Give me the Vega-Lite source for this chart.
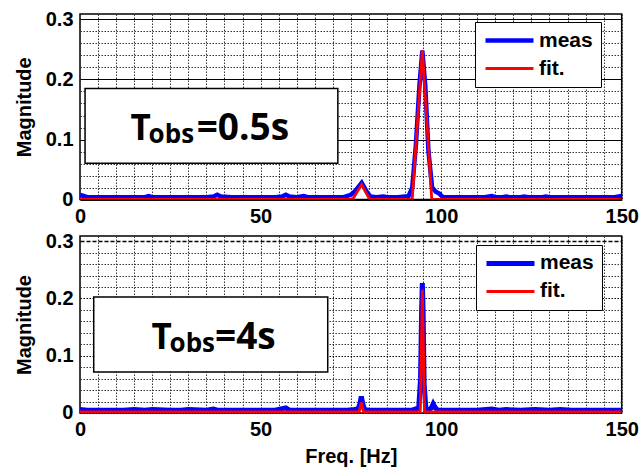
{
  "$schema": "https://vega.github.io/schema/vega-lite/v6.json",
  "background": "white",
  "padding": {"left": 13, "top": 8, "right": 5, "bottom": 5},
  "spacing": 2,
  "datasets": {
    "top": [
      {"f": 0, "m": 0.008, "s": "meas"}, {"f": 1, "m": 0.006, "s": "meas"}, {"f": 2, "m": 0.004, "s": "meas"},
      {"f": 4, "m": 0.004, "s": "meas"}, {"f": 7, "m": 0.004, "s": "meas"}, {"f": 10, "m": 0.004, "s": "meas"},
      {"f": 13, "m": 0.004, "s": "meas"}, {"f": 16, "m": 0.004, "s": "meas"}, {"f": 18, "m": 0.004, "s": "meas"},
      {"f": 19, "m": 0.006, "s": "meas"}, {"f": 20, "m": 0.004, "s": "meas"}, {"f": 24, "m": 0.004, "s": "meas"},
      {"f": 28, "m": 0.004, "s": "meas"}, {"f": 32, "m": 0.004, "s": "meas"}, {"f": 35, "m": 0.004, "s": "meas"},
      {"f": 37, "m": 0.005, "s": "meas"}, {"f": 38, "m": 0.008, "s": "meas"}, {"f": 39, "m": 0.005, "s": "meas"},
      {"f": 42, "m": 0.004, "s": "meas"}, {"f": 46, "m": 0.004, "s": "meas"}, {"f": 50, "m": 0.004, "s": "meas"},
      {"f": 54, "m": 0.004, "s": "meas"}, {"f": 56, "m": 0.005, "s": "meas"}, {"f": 57, "m": 0.008, "s": "meas"},
      {"f": 58, "m": 0.005, "s": "meas"}, {"f": 60, "m": 0.004, "s": "meas"}, {"f": 62, "m": 0.006, "s": "meas"},
      {"f": 63, "m": 0.004, "s": "meas"}, {"f": 66, "m": 0.004, "s": "meas"}, {"f": 70, "m": 0.004, "s": "meas"},
      {"f": 73, "m": 0.004, "s": "meas"}, {"f": 75, "m": 0.008, "s": "meas"}, {"f": 76, "m": 0.013, "s": "meas"},
      {"f": 78, "m": 0.028, "s": "meas"}, {"f": 79.5, "m": 0.012, "s": "meas"}, {"f": 80.5, "m": 0.005, "s": "meas"},
      {"f": 82, "m": 0.004, "s": "meas"}, {"f": 84, "m": 0.005, "s": "meas"}, {"f": 85, "m": 0.004, "s": "meas"},
      {"f": 88, "m": 0.004, "s": "meas"}, {"f": 90, "m": 0.005, "s": "meas"}, {"f": 91, "m": 0.006, "s": "meas"},
      {"f": 92, "m": 0.02, "s": "meas"}, {"f": 93, "m": 0.09, "s": "meas"}, {"f": 94, "m": 0.19, "s": "meas"},
      {"f": 94.8, "m": 0.248, "s": "meas"}, {"f": 95.6, "m": 0.19, "s": "meas"}, {"f": 96.5, "m": 0.08, "s": "meas"},
      {"f": 97.5, "m": 0.02, "s": "meas"}, {"f": 98.5, "m": 0.013, "s": "meas"}, {"f": 99.5, "m": 0.01, "s": "meas"},
      {"f": 100.5, "m": 0.004, "s": "meas"}, {"f": 104, "m": 0.004, "s": "meas"}, {"f": 108, "m": 0.004, "s": "meas"},
      {"f": 112, "m": 0.004, "s": "meas"}, {"f": 114, "m": 0.006, "s": "meas"}, {"f": 115, "m": 0.004, "s": "meas"},
      {"f": 117, "m": 0.004, "s": "meas"}, {"f": 118, "m": 0.005, "s": "meas"}, {"f": 119, "m": 0.004, "s": "meas"},
      {"f": 122, "m": 0.004, "s": "meas"}, {"f": 123, "m": 0.005, "s": "meas"}, {"f": 124, "m": 0.004, "s": "meas"},
      {"f": 128, "m": 0.004, "s": "meas"}, {"f": 129, "m": 0.005, "s": "meas"}, {"f": 130, "m": 0.004, "s": "meas"},
      {"f": 134, "m": 0.004, "s": "meas"}, {"f": 137, "m": 0.004, "s": "meas"}, {"f": 140, "m": 0.004, "s": "meas"},
      {"f": 144, "m": 0.004, "s": "meas"}, {"f": 148, "m": 0.004, "s": "meas"}, {"f": 150, "m": 0.006, "s": "meas"},
      {"f": 0, "m": 0.0005, "s": "fit."}, {"f": 75.5, "m": 0.0005, "s": "fit."}, {"f": 78, "m": 0.025, "s": "fit."},
      {"f": 80.2, "m": 0.0005, "s": "fit."}, {"f": 92, "m": 0.0005, "s": "fit."}, {"f": 94.8, "m": 0.249, "s": "fit."},
      {"f": 97.4, "m": 0.0005, "s": "fit."}, {"f": 150, "m": 0.0005, "s": "fit."}
    ],
    "bot": [
      {"f": 0, "m": 0.006, "s": "meas"}, {"f": 2, "m": 0.005, "s": "meas"}, {"f": 5, "m": 0.005, "s": "meas"},
      {"f": 8, "m": 0.005, "s": "meas"}, {"f": 12, "m": 0.005, "s": "meas"}, {"f": 15, "m": 0.006, "s": "meas"},
      {"f": 18, "m": 0.005, "s": "meas"}, {"f": 20, "m": 0.006, "s": "meas"}, {"f": 25, "m": 0.005, "s": "meas"},
      {"f": 28, "m": 0.005, "s": "meas"}, {"f": 30, "m": 0.006, "s": "meas"}, {"f": 35, "m": 0.005, "s": "meas"},
      {"f": 37, "m": 0.007, "s": "meas"}, {"f": 38, "m": 0.005, "s": "meas"}, {"f": 42, "m": 0.005, "s": "meas"},
      {"f": 46, "m": 0.005, "s": "meas"}, {"f": 50, "m": 0.005, "s": "meas"}, {"f": 54, "m": 0.005, "s": "meas"},
      {"f": 57, "m": 0.009, "s": "meas"}, {"f": 58, "m": 0.005, "s": "meas"}, {"f": 62, "m": 0.005, "s": "meas"},
      {"f": 66, "m": 0.005, "s": "meas"}, {"f": 70, "m": 0.005, "s": "meas"}, {"f": 74, "m": 0.005, "s": "meas"},
      {"f": 76, "m": 0.006, "s": "meas"}, {"f": 77, "m": 0.007, "s": "meas"}, {"f": 77.5, "m": 0.016, "s": "meas"},
      {"f": 77.9, "m": 0.029, "s": "meas"}, {"f": 78.3, "m": 0.016, "s": "meas"}, {"f": 78.8, "m": 0.006, "s": "meas"},
      {"f": 80, "m": 0.005, "s": "meas"}, {"f": 84, "m": 0.005, "s": "meas"}, {"f": 88, "m": 0.005, "s": "meas"},
      {"f": 92, "m": 0.005, "s": "meas"}, {"f": 93.8, "m": 0.009, "s": "meas"}, {"f": 94.3, "m": 0.06, "s": "meas"},
      {"f": 94.6, "m": 0.18, "s": "meas"}, {"f": 94.8, "m": 0.227, "s": "meas"}, {"f": 95, "m": 0.18, "s": "meas"},
      {"f": 95.3, "m": 0.05, "s": "meas"}, {"f": 95.8, "m": 0.006, "s": "meas"}, {"f": 96.5, "m": 0.005, "s": "meas"},
      {"f": 97.3, "m": 0.009, "s": "meas"}, {"f": 97.8, "m": 0.016, "s": "meas"}, {"f": 98.3, "m": 0.01, "s": "meas"},
      {"f": 99, "m": 0.005, "s": "meas"}, {"f": 103, "m": 0.005, "s": "meas"}, {"f": 107, "m": 0.005, "s": "meas"},
      {"f": 110, "m": 0.005, "s": "meas"}, {"f": 114, "m": 0.007, "s": "meas"}, {"f": 116, "m": 0.005, "s": "meas"},
      {"f": 118, "m": 0.006, "s": "meas"}, {"f": 122, "m": 0.005, "s": "meas"}, {"f": 126, "m": 0.006, "s": "meas"},
      {"f": 130, "m": 0.005, "s": "meas"}, {"f": 133, "m": 0.006, "s": "meas"}, {"f": 136, "m": 0.005, "s": "meas"},
      {"f": 140, "m": 0.005, "s": "meas"}, {"f": 145, "m": 0.005, "s": "meas"}, {"f": 150, "m": 0.005, "s": "meas"},
      {"f": 0, "m": 0.002, "s": "fit."}, {"f": 77.3, "m": 0.002, "s": "fit."}, {"f": 77.9, "m": 0.018, "s": "fit."},
      {"f": 78.5, "m": 0.002, "s": "fit."}, {"f": 94.2, "m": 0.002, "s": "fit."}, {"f": 94.8, "m": 0.215, "s": "fit."},
      {"f": 95.4, "m": 0.002, "s": "fit."}, {"f": 150, "m": 0.002, "s": "fit."}
    ],
    "one": [{}]
  },
  "config": {
    "view": {"stroke": "black", "strokeWidth": 1.5},
    "axis": {
      "domain": false,
      "ticks": false,
      "labelFont": "Liberation Sans",
      "labelFontWeight": "bold",
      "labelFontSize": 20,
      "labelColor": "black",
      "labelPadding": 7,
      "labelOverlap": false,
      "labelFlush": false,
      "titleFont": "Liberation Sans",
      "titleFontWeight": "bold",
      "titleFontSize": 20,
      "titleColor": "black",
      "grid": true,
      "gridColor": "#333333",
      "gridDash": [1.5, 1.5],
      "gridWidth": 1
    },
    "legend": {
      "title": null,
      "orient": "none",
      "strokeColor": "black",
      "fillColor": "white",
      "padding": 8,
      "rowPadding": 6,
      "labelFont": "Liberation Sans",
      "labelFontWeight": "bold",
      "labelFontSize": 21,
      "labelColor": "black",
      "symbolType": "M-1,0L5,0",
      "symbolSize": 256,
      "labelOffset": 35
    }
  },
  "resolve": {
    "scale": {"color": "independent", "strokeWidth": "independent"},
    "legend": {"color": "independent", "strokeWidth": "independent"}
  },
  "vconcat": [
    {
      "width": 541.7,
      "height": 185.6,
      "layer": [
        {
          "data": {"name": "top"},
          "transform": [{"filter": "datum.s == 'meas'"}],
          "mark": {"type": "line", "clip": true},
          "encoding": {
            "x": {"field": "f", "type": "quantitative", "scale": {"domain": [0, 150], "nice": false},
              "axis": {"title": null, "values": [0,5,10,15,20,25,30,35,40,45,50,55,60,65,70,75,80,85,90,95,100,105,110,115,120,125,130,135,140,145,150],
                "labelExpr": "datum.value % 50 == 0 ? datum.label : ''"}},
            "y": {"field": "m", "type": "quantitative", "scale": {"domain": [0, 0.309], "nice": false},
              "axis": {"title": "Magnitude", "titlePadding": 11,
                "values": [0,0.02,0.04,0.06,0.08,0.1,0.12,0.14,0.16,0.18,0.2,0.22,0.24,0.26,0.28,0.3],
                "labelExpr": "abs(datum.value*10 - round(datum.value*10)) < 0.001 ? format(datum.value, '.1~f') : ''",
                "gridDash": {"condition": {"test": "abs(datum.value*10 - round(datum.value*10)) < 0.001", "value": []}, "value": [1.5, 1.5]},
                "gridColor": {"condition": {"test": "abs(datum.value*10 - round(datum.value*10)) < 0.001", "value": "black"}, "value": "#333333"}}},
            "color": {"field": "s", "type": "nominal", "scale": {"domain": ["meas", "fit."], "range": ["#0000ff", "#ff0000"]},
              "legend": {"legendX": 395, "legendY": 8}},
            "strokeWidth": {"field": "s", "type": "nominal", "scale": {"domain": ["meas", "fit."], "range": [4.5, 2.8]},
              "legend": {"legendX": 395, "legendY": 8}}
          }
        },
        {
          "data": {"name": "top"},
          "transform": [{"filter": "datum.s == 'fit.'"}],
          "mark": {"type": "line", "clip": true},
          "encoding": {
            "x": {"field": "f", "type": "quantitative", "scale": {"domain": [0, 150], "nice": false},
              "axis": {"title": null, "values": [0,5,10,15,20,25,30,35,40,45,50,55,60,65,70,75,80,85,90,95,100,105,110,115,120,125,130,135,140,145,150],
                "labelExpr": "datum.value % 50 == 0 ? datum.label : ''"}},
            "y": {"field": "m", "type": "quantitative", "scale": {"domain": [0, 0.309], "nice": false},
              "axis": {"title": "Magnitude", "titlePadding": 11,
                "values": [0,0.02,0.04,0.06,0.08,0.1,0.12,0.14,0.16,0.18,0.2,0.22,0.24,0.26,0.28,0.3],
                "labelExpr": "abs(datum.value*10 - round(datum.value*10)) < 0.001 ? format(datum.value, '.1~f') : ''",
                "gridDash": {"condition": {"test": "abs(datum.value*10 - round(datum.value*10)) < 0.001", "value": []}, "value": [1.5, 1.5]},
                "gridColor": {"condition": {"test": "abs(datum.value*10 - round(datum.value*10)) < 0.001", "value": "black"}, "value": "#333333"}}},
            "color": {"field": "s", "type": "nominal"},
            "strokeWidth": {"field": "s", "type": "nominal"}
          }
        },
        {
          "data": {"name": "one"},
          "layer": [
            {
              "mark": {"type": "rect", "fill": "white", "stroke": "black", "strokeWidth": 1.5},
              "encoding": {"x": {"datum": 1.4}, "x2": {"datum": 71.4}, "y": {"datum": 0.185}, "y2": {"datum": 0.0605}}
            },
            {
              "mark": {"type": "text", "text": "T", "align": "left", "baseline": "alphabetic", "font": "Open Sans", "fontWeight": "bold", "fontSize": 35, "fill": "black"},
              "encoding": {"x": {"datum": 14.0}, "y": {"datum": 0.1}}
            },
            {
              "mark": {"type": "text", "text": "obs", "align": "left", "baseline": "alphabetic", "font": "Open Sans", "fontWeight": "bold", "fontSize": 26, "fill": "black"},
              "encoding": {"x": {"datum": 19.0}, "y": {"datum": 0.094}}
            },
            {
              "mark": {"type": "text", "text": "=0.5s", "align": "left", "baseline": "alphabetic", "font": "Open Sans", "fontWeight": "bold", "fontSize": 37, "fill": "black"},
              "encoding": {"x": {"datum": 32.3}, "y": {"datum": 0.1}}
            }
          ],
          "encoding": {
            "x": {"type": "quantitative", "scale": {"domain": [0, 150], "nice": false},
              "axis": {"title": null, "values": [0,5,10,15,20,25,30,35,40,45,50,55,60,65,70,75,80,85,90,95,100,105,110,115,120,125,130,135,140,145,150],
                "labelExpr": "datum.value % 50 == 0 ? datum.label : ''"}},
            "y": {"type": "quantitative", "scale": {"domain": [0, 0.309], "nice": false},
              "axis": {"title": "Magnitude", "titlePadding": 11,
                "values": [0,0.02,0.04,0.06,0.08,0.1,0.12,0.14,0.16,0.18,0.2,0.22,0.24,0.26,0.28,0.3],
                "labelExpr": "abs(datum.value*10 - round(datum.value*10)) < 0.001 ? format(datum.value, '.1~f') : ''",
                "gridDash": {"condition": {"test": "abs(datum.value*10 - round(datum.value*10)) < 0.001", "value": []}, "value": [1.5, 1.5]},
                "gridColor": {"condition": {"test": "abs(datum.value*10 - round(datum.value*10)) < 0.001", "value": "black"}, "value": "#333333"}}}
          }
        }
      ]
    },
    {
      "width": 541.7,
      "height": 177,
      "layer": [
        {
          "data": {"name": "bot"},
          "transform": [{"filter": "datum.s == 'meas'"}],
          "mark": {"type": "line", "clip": true},
          "encoding": {
            "x": {"field": "f", "type": "quantitative", "scale": {"domain": [0, 150], "nice": false},
              "axis": {"title": "Freq. [Hz]", "titlePadding": 7, "values": [0,5,10,15,20,25,30,35,40,45,50,55,60,65,70,75,80,85,90,95,100,105,110,115,120,125,130,135,140,145,150],
                "labelExpr": "datum.value % 50 == 0 ? datum.label : ''"}},
            "y": {"field": "m", "type": "quantitative", "scale": {"domain": [0, 0.309], "nice": false},
              "axis": {"title": "Magnitude", "titlePadding": 11,
                "values": [0,0.02,0.04,0.06,0.08,0.1,0.12,0.14,0.16,0.18,0.2,0.22,0.24,0.26,0.28,0.3],
                "labelExpr": "abs(datum.value*10 - round(datum.value*10)) < 0.001 ? format(datum.value, '.1~f') : ''",
                "gridDash": {"condition": {"test": "datum.value > 0.29", "value": [4, 2]}, "value": [1.5, 1.5]},
                "gridWidth": {"condition": {"test": "datum.value > 0.29", "value": 1.5}, "value": 1},
                "gridColor": {"condition": {"test": "abs(datum.value*10 - round(datum.value*10)) < 0.001", "value": "black"}, "value": "#333333"}}},
            "color": {"field": "s", "type": "nominal", "scale": {"domain": ["meas", "fit."], "range": ["#0000ff", "#ff0000"]},
              "legend": {"legendX": 396, "legendY": 9}},
            "strokeWidth": {"field": "s", "type": "nominal", "scale": {"domain": ["meas", "fit."], "range": [5, 2.8]},
              "legend": {"legendX": 396, "legendY": 9}}
          }
        },
        {
          "data": {"name": "bot"},
          "transform": [{"filter": "datum.s == 'fit.'"}],
          "mark": {"type": "line", "clip": true},
          "encoding": {
            "x": {"field": "f", "type": "quantitative", "scale": {"domain": [0, 150], "nice": false},
              "axis": {"title": "Freq. [Hz]", "titlePadding": 7, "values": [0,5,10,15,20,25,30,35,40,45,50,55,60,65,70,75,80,85,90,95,100,105,110,115,120,125,130,135,140,145,150],
                "labelExpr": "datum.value % 50 == 0 ? datum.label : ''"}},
            "y": {"field": "m", "type": "quantitative", "scale": {"domain": [0, 0.309], "nice": false},
              "axis": {"title": "Magnitude", "titlePadding": 11,
                "values": [0,0.02,0.04,0.06,0.08,0.1,0.12,0.14,0.16,0.18,0.2,0.22,0.24,0.26,0.28,0.3],
                "labelExpr": "abs(datum.value*10 - round(datum.value*10)) < 0.001 ? format(datum.value, '.1~f') : ''",
                "gridDash": {"condition": {"test": "datum.value > 0.29", "value": [4, 2]}, "value": [1.5, 1.5]},
                "gridWidth": {"condition": {"test": "datum.value > 0.29", "value": 1.5}, "value": 1},
                "gridColor": {"condition": {"test": "abs(datum.value*10 - round(datum.value*10)) < 0.001", "value": "black"}, "value": "#333333"}}},
            "color": {"field": "s", "type": "nominal"},
            "strokeWidth": {"field": "s", "type": "nominal"}
          }
        },
        {
          "data": {"name": "one"},
          "layer": [
            {
              "mark": {"type": "rect", "fill": "white", "stroke": "black", "strokeWidth": 1.5},
              "encoding": {"x": {"datum": 3.8}, "x2": {"datum": 68.6}, "y": {"datum": 0.2025}, "y2": {"datum": 0.0716}}
            },
            {
              "mark": {"type": "text", "text": "T", "align": "left", "baseline": "alphabetic", "font": "Open Sans", "fontWeight": "bold", "fontSize": 35, "fill": "black"},
              "encoding": {"x": {"datum": 19.8}, "y": {"datum": 0.1124}}
            },
            {
              "mark": {"type": "text", "text": "obs", "align": "left", "baseline": "alphabetic", "font": "Open Sans", "fontWeight": "bold", "fontSize": 26, "fill": "black"},
              "encoding": {"x": {"datum": 24.8}, "y": {"datum": 0.1065}}
            },
            {
              "mark": {"type": "text", "text": "=4s", "align": "left", "baseline": "alphabetic", "font": "Open Sans", "fontWeight": "bold", "fontSize": 37, "fill": "black"},
              "encoding": {"x": {"datum": 37.4}, "y": {"datum": 0.1124}}
            }
          ],
          "encoding": {
            "x": {"type": "quantitative", "scale": {"domain": [0, 150], "nice": false},
              "axis": {"title": "Freq. [Hz]", "titlePadding": 7, "values": [0,5,10,15,20,25,30,35,40,45,50,55,60,65,70,75,80,85,90,95,100,105,110,115,120,125,130,135,140,145,150],
                "labelExpr": "datum.value % 50 == 0 ? datum.label : ''"}},
            "y": {"type": "quantitative", "scale": {"domain": [0, 0.309], "nice": false},
              "axis": {"title": "Magnitude", "titlePadding": 11,
                "values": [0,0.02,0.04,0.06,0.08,0.1,0.12,0.14,0.16,0.18,0.2,0.22,0.24,0.26,0.28,0.3],
                "labelExpr": "abs(datum.value*10 - round(datum.value*10)) < 0.001 ? format(datum.value, '.1~f') : ''",
                "gridDash": {"condition": {"test": "datum.value > 0.29", "value": [4, 2]}, "value": [1.5, 1.5]},
                "gridWidth": {"condition": {"test": "datum.value > 0.29", "value": 1.5}, "value": 1},
                "gridColor": {"condition": {"test": "abs(datum.value*10 - round(datum.value*10)) < 0.001", "value": "black"}, "value": "#333333"}}}
          }
        }
      ]
    }
  ]
}
